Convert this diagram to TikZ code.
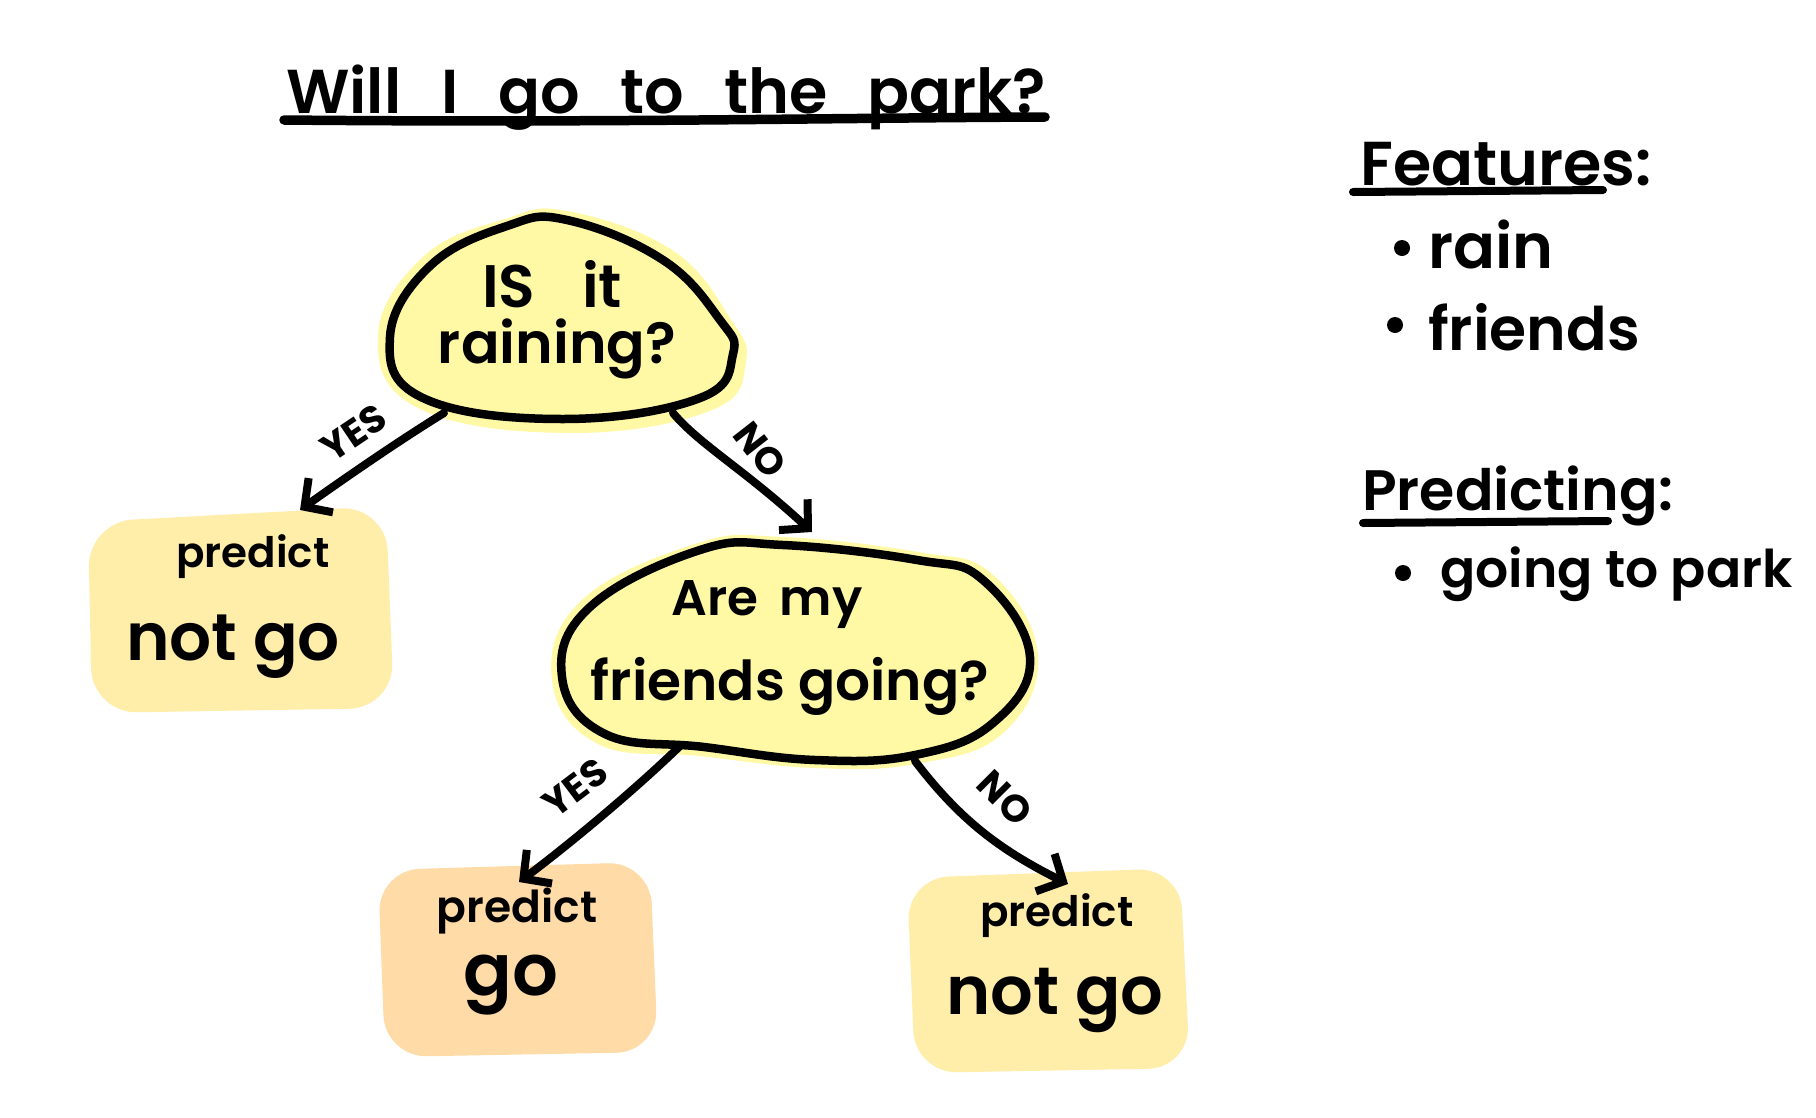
\documentclass[tikz,border=0pt]{standalone}
\usepackage{fontspec}
\setmainfont{Poppins}[UprightFont=* SemiBold, BoldFont=* Bold]
\usetikzlibrary{arrows.meta}

\definecolor{blobyellow}{HTML}{FFF9A6}
\definecolor{leafyellow}{HTML}{FFEDAA}
\definecolor{leafpeach}{HTML}{FFDBA8}

\newcommand\handsize[1]{\fontsize{#1}{#1}\selectfont}

\tikzset{
  ink/.style={line width=8pt, line cap=round, line join=round},
  branch/.style={ink, -{Straight Barb[length=20pt,width=42pt]}},
  txt/.style={inner sep=0pt, anchor=base},
  txtw/.style={inner sep=0pt, anchor=base west},
  edgelabel/.style={inner sep=0pt, font=\handsize{38}\bfseries},
}

\begin{document}
\begin{tikzpicture}[x=1pt, y=-1pt]
\useasboundingbox (0,0) rectangle (1816,1117);
\fill[white] (0,0) rectangle (1816,1117);

% ---------- title ----------
\node[txtw] (title) at (286,113) {\handsize{62}\makebox[760pt][s]{Will I go to the park?}};
\draw[ink, line width=9.5pt] (284,120) .. controls (600,123) and (820,118) .. (1045,117);

% ---------- root question ----------
\fill[blobyellow] plot[smooth cycle, tension=0.7] coordinates
  {(567,211) (672,250) (730,318) (746,362) (712,410) (570,433) (418,408) (378,335) (424,256) (505,219)};
\draw[ink, line width=8.5pt, fill=blobyellow] plot[smooth cycle, tension=0.7] coordinates
  {(567,220) (663,260) (720,320) (733,354) (700,398) (563,419) (423,398) (390,337) (430,266) (507,226)};
\node[txt] (rootA) at (552,307) {\handsize{60}\makebox[140pt][s]{IS it}};
\node[txt] (rootB) at (557,363) {\handsize{57}raining?};

% ---------- second question ----------
\fill[blobyellow] plot[smooth cycle, tension=0.7] coordinates
  {(783,537) (918,552) (992,574) (1038,656) (1002,734) (915,764) (815,768) (700,756) (598,744) (552,680) (582,600) (698,543)};
\draw[ink, line width=8.5pt, fill=blobyellow] plot[smooth cycle, tension=0.7] coordinates
  {(783,545) (917,560) (983,580) (1030,657) (993,723) (915,755) (815,760) (704,747) (605,734) (562,677) (590,607) (700,550)};
\node[txt] (secA) at (767,615) {\handsize{50}\makebox[191pt][s]{Are my}};
\node[txt] (secB) at (790,700) {\handsize{55}friends going?};

% ---------- leaves ----------
\fill[leafyellow, rounded corners=45pt] (88,522) -- (386,506) -- (394,708) -- (92,713) -- cycle;
\node[txt] (leafAa) at (253,567) {\handsize{42}predict};
\node[txt] (leafAb) at (233,660) {\handsize{66}not go};

\fill[leafpeach, rounded corners=42pt] (378,870) -- (650,862) -- (658,1052) -- (385,1057) -- cycle;
\node[txt] (leafBa) at (517,922) {\handsize{44}predict};
\node[txt] (leafBb) at (511,995) {\handsize{72}go};

\fill[leafyellow, rounded corners=42pt] (907,878) -- (1180,868) -- (1190,1068) -- (915,1073) -- cycle;
\node[txt] (leafCa) at (1057,926) {\handsize{42}predict};
\node[txt] (leafCb) at (1055,1014) {\handsize{67}not go};

% ---------- branches ----------
\coordinate (rootYesFrom) at (444,413);
\coordinate (leafATop)    at (300,510);
\coordinate (rootNoFrom)  at (673,413);
\coordinate (secTop)      at (812,532);
\coordinate (secYesFrom)  at (681,745);
\coordinate (leafBTop)    at (519,882);
\coordinate (secNoFrom)   at (915,761);
\coordinate (leafCTop)    at (1068,884);

\draw[branch] (rootYesFrom) .. controls (400,440) and (345,478) .. (leafATop);
\draw[branch] (rootNoFrom) .. controls (700,445) and (745,470) .. (secTop);
\draw[branch] (secYesFrom) .. controls (640,785) and (575,840) .. (leafBTop);
\draw[branch] (secNoFrom) .. controls (960,820) and (1000,850) .. (leafCTop);

\node[edgelabel, rotate=34]  (lblRootYes) at (354,433) {YES};
\node[edgelabel, rotate=-52] (lblRootNo)  at (760,450) {NO};
\node[edgelabel, rotate=37]  (lblSecYes)  at (575,788) {YES};
\node[edgelabel, rotate=-45] (lblSecNo)   at (1005,798) {NO};

% ---------- legend ----------
\node[txtw] (featHead) at (1360,185) {\handsize{62}Features:};
\draw[ink] (1353,192) -- (1603,190);
\fill (1402,248) circle (8pt);
\node[txtw] (featRain) at (1428,268) {\handsize{62}rain};
\fill (1395,325) circle (8pt);
\node[txtw] (featFriends) at (1428,350) {\handsize{60}friends};

\node[txtw] (predHead) at (1362,510) {\handsize{57}Predicting:};
\draw[ink] (1363,523) -- (1608,521);
\fill (1403,573) circle (8pt);
\node[txtw] (predGoing) at (1440,587) {\handsize{52}going to park};
\end{tikzpicture}
\end{document}
